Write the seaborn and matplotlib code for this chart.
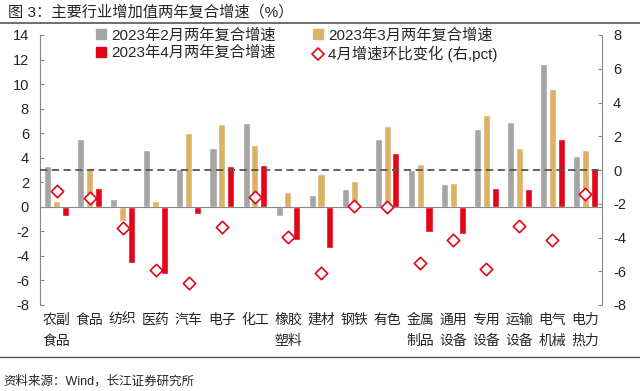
import numpy as np
import pandas as pd
import matplotlib
matplotlib.use('Agg')
import matplotlib.pyplot as plt
from matplotlib.lines import Line2D
import seaborn as sns

categories = ['农副\n食品', '食品', '纺织', '医药', '汽车', '电子', '化工', '橡胶\n塑料', '建材', '钢铁',
              '有色', '金属\n制品', '通用\n设备', '专用\n设备', '运输\n设备', '电气\n机械', '电力\n热力']
feb = [3.35, 5.5, 0.63, 4.6, 3.08, 4.77, 6.86, -0.72, 0.99, 1.42, 5.55, 3.0, 1.83, 6.32, 6.94, 11.64, 4.14]
mar = [0.47, 3.13, -1.16, 0.47, 6.0, 6.72, 5.04, 1.23, 2.7, 2.13, 6.61, 3.46, 1.91, 7.48, 4.77, 9.6, 4.63]
apr = [-0.75, 1.5, -4.58, -5.45, -0.61, 3.33, 3.38, -2.71, -3.39, 0.0, 4.38, -2.03, -2.22, 1.53, 1.45, 5.5, 3.19]
chg = [-1.24, -1.64, -3.42, -5.95, -6.68, -3.37, -1.62, -3.97, -6.12, -2.15, -2.19, -5.49, -4.15, -5.89, -3.32, -4.15, -1.4]
series = ['2023年2月两年复合增速', '2023年3月两年复合增速', '2023年4月两年复合增速']
chg_label = '4月增速环比变化 (右,pct)'
colors = {series[0]: '#a5a5a5', series[1]: '#dbb266', series[2]: '#e3061b'}

sns.set_style('white')
plt.rcParams['font.family'] = ['Liberation Sans', 'Noto Sans CJK SC', 'DejaVu Sans']
plt.rcParams['axes.unicode_minus'] = False

df = pd.DataFrame({
    'cat': categories * 3,
    'series': np.repeat(series, len(categories)),
    'value': feb + mar + apr,
})

fig, ax = plt.subplots(figsize=(6.4, 3.91), dpi=100)
fig.subplots_adjust(left=40/640, right=602/640, top=1-35/391, bottom=1-305/391)

sns.barplot(data=df, x='cat', y='value', hue='series', hue_order=series, palette=colors,
            width=0.8, gap=0.2, legend=False, ax=ax, saturation=1)
ax.set_ylim(-8, 14)
ax.set_yticks(np.arange(-8, 15, 2))
ax.set_xlim(-0.5, len(categories) - 0.5)
ax.set_xlabel('')
ax.set_ylabel('')

ax2 = ax.twinx()
x_idx = np.arange(len(categories))
sns.scatterplot(x=x_idx, y=chg, marker='D', s=40, color='white', edgecolor='#e3061b',
                linewidth=1.2, ax=ax2, zorder=5)
ax2.axhline(0, ls=(0, (4, 2.5)), color='#555555', lw=1.3, zorder=1)
ax2.set_ylim(-8, 8)
ax2.set_yticks(np.arange(-8, 9, 2))

for a in (ax, ax2):
    for s in ('top', 'bottom', 'left', 'right'):
        a.spines[s].set_visible(False)
ax.spines['left'].set_visible(True)
ax.spines['left'].set_color('#888888')
ax2.spines['right'].set_visible(True)
ax2.spines['right'].set_color('#888888')
ax.spines['bottom'].set_visible(True)
ax.spines['bottom'].set_position(('data', 0))
ax.spines['bottom'].set_color('#888888')

ax.set_xticks(np.arange(-0.5, len(categories), 1))
ax.set_xticklabels([])
ax.tick_params(axis='x', direction='out', length=3, color='#888888')
ax.tick_params(axis='y', direction='in', length=3, color='#888888', labelsize=10.5, pad=8)
ax2.tick_params(axis='y', direction='in', length=3, color='#888888', labelsize=10.5, pad=8)

for i, c in enumerate(categories):
    ax.text(i, -0.03, c, transform=ax.get_xaxis_transform(), ha='center', va='top',
            fontsize=10, linespacing=1.6)

handles = [
    Line2D([], [], marker='s', ls='none', color=colors[series[0]], markersize=7),
    Line2D([], [], marker='s', ls='none', color=colors[series[2]], markersize=7),
    Line2D([], [], marker='s', ls='none', color=colors[series[1]], markersize=7),
    Line2D([], [], marker='D', ls='none', markerfacecolor='white', markeredgecolor='#e3061b',
           markeredgewidth=1.2, markersize=6),
]
labels = [series[0], series[2], series[1], chg_label]
fig.legend(handles, labels, ncol=2, loc='upper left', bbox_to_anchor=(90/640, 1-22/391),
           frameon=False, fontsize=11, handlelength=0.7, handletextpad=0.3,
           columnspacing=2.4, labelspacing=0.2, borderaxespad=0)

fig.text(8/640, 1-12/391, '图 3：主要行业增加值两年复合增速（%）', fontsize=11, va='center', ha='left')
fig.add_artist(Line2D([0, 1], [1-23/391, 1-23/391], color='#555555', lw=1.2))
fig.add_artist(Line2D([0, 1], [1-357/391, 1-357/391], color='#555555', lw=1.0))
fig.text(3/640, 1-381/391, '资料来源：Wind，长江证券研究所', fontsize=9, va='center', ha='left')

fig.savefig('out.png', dpi=100)
